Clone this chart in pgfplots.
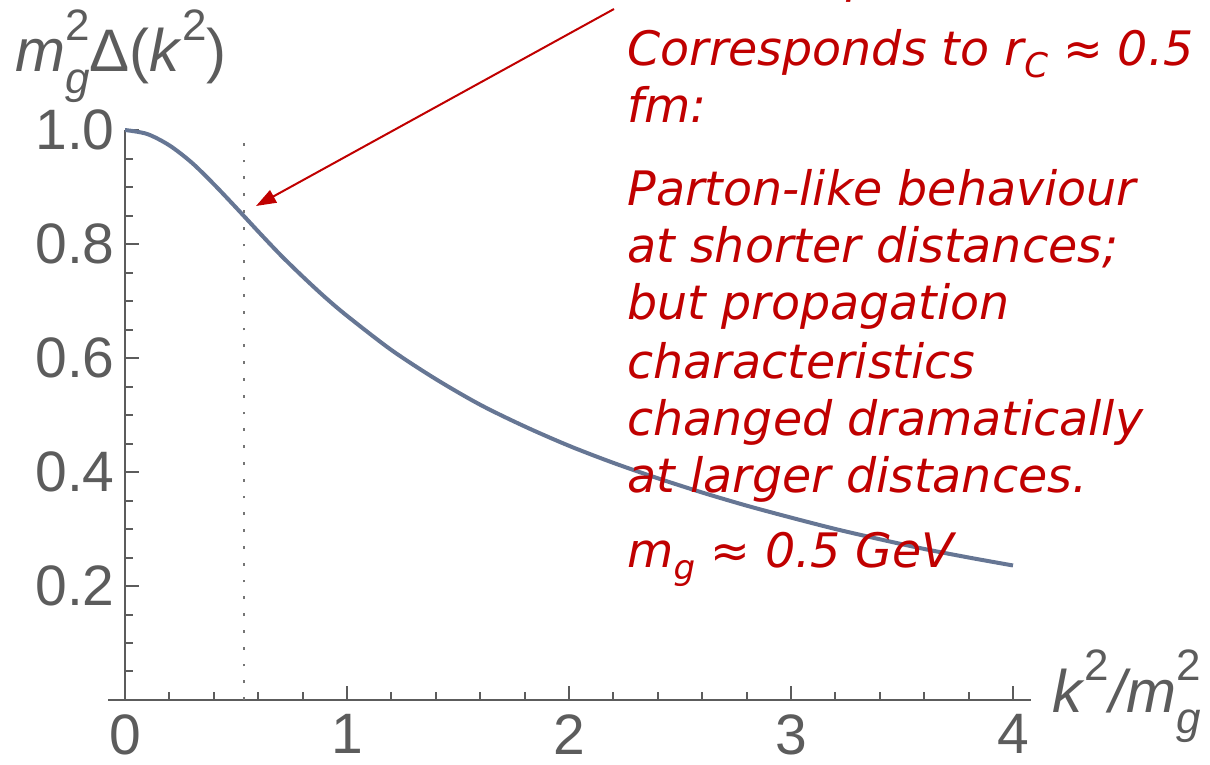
\documentclass[border=0pt]{standalone}
\usepackage{fontspec}
\usepackage{pgfplots}
\usepackage{pgfplotstable}
\pgfplotsset{compat=1.18}
\usetikzlibrary{arrows.meta}
\setmainfont{Liberation Sans}
\newfontfamily\notefont{DejaVu Sans}

\definecolor{axgray}{RGB}{92,92,92}
\definecolor{curveblue}{RGB}{102,118,148}
\definecolor{notered}{RGB}{192,0,0}

\newcommand\axfont{\fontsize{28.5bp}{34bp}\selectfont}
\newcommand\lblfont{\fontsize{30bp}{34bp}\selectfont}
\newcommand\scr[1]{{\fontsize{22bp}{22bp}\selectfont #1}}
\newcommand\sups[1]{\raisebox{0.52em}{\scr{#1}}}
% superscript stacked over a subscript
\newcommand\supsub[2]{\rlap{\raisebox{0.52em}{\scr{#1}}}\raisebox{-0.36em}{\scr{#2}}}
\newcommand\notesize{\fontsize{23.75bp}{28.5bp}\selectfont}
\newcommand\nsub[1]{\raisebox{-6bp}{\fontsize{17bp}{17bp}\selectfont #1}}

% dressed propagator, m_g^2 Delta(k^2) against k^2/m_g^2
\pgfplotstableread{
x    y
0.0  1.000
0.1  0.993
0.2  0.973
0.3  0.943
0.4  0.905
0.5  0.864
0.6  0.822
0.7  0.781
0.8  0.743
0.9  0.707
1.0  0.674
1.2  0.614
1.4  0.563
1.6  0.518
1.8  0.480
2.0  0.446
2.2  0.416
2.4  0.389
2.6  0.364
2.8  0.341
3.0  0.320
3.2  0.300
3.4  0.282
3.6  0.265
3.8  0.250
4.0  0.236
}\propdata

\begin{document}
\begin{tikzpicture}
\begin{axis}[
  scale only axis, width=461.5bp, height=285bp,
  xmin=-0.0766, xmax=4.081, ymin=0, ymax=1,
  axis lines=middle,
  axis line style={-, line width=1.3bp, axgray},
  hide obscured x ticks=false, hide obscured y ticks=false,
  xtick={0,1,2,3,4},
  minor xtick={0.2,0.4,0.6,0.8,1.2,1.4,1.6,1.8,2.2,2.4,2.6,2.8,3.2,3.4,3.6,3.8},
  ytick={0.2,0.4,0.6,0.8,1.0},
  minor ytick={0.05,0.1,0.15,0.25,0.3,0.35,0.45,0.5,0.55,0.65,0.7,0.75,0.85,0.9,0.95},
  tick align=inside,
  major tick length=7bp, minor tick length=4bp,
  every tick/.style={axgray, line width=1bp},
  /pgf/number format/assume math mode=true,
  ticklabel style={font=\axfont, text=axgray},
  yticklabel style={/pgf/number format/fixed, /pgf/number format/fixed zerofill,
    /pgf/number format/precision=1, anchor=east, inner sep=0pt, xshift=-5bp},
  xticklabel style={anchor=north, inner sep=0pt, yshift=-7bp},
  clip=false,
]
\addplot[axgray!85, line width=1.4bp, dash pattern=on 1.4bp off 7bp]
  coordinates {(0.536,0) (0.536,0.99)};
\addplot[curveblue, line width=2bp, smooth] table[x=x, y=y] {\propdata};

% axis titles
\node[anchor=base west, inner sep=0pt, text=axgray, font=\lblfont]
  at (axis cs:-0.4955,1.1018)
  {\textit{m}\supsub{2}{\textit{g}}Δ(\textit{k}\sups{2})};
\node[anchor=base west, inner sep=0pt, text=axgray, font=\lblfont]
  at (axis cs:4.1757,-0.0211)
  {\textit{k}\sups{2}\textit{/m}\supsub{2}{\textit{g}}};

% annotation
\draw[notered, line width=1bp, -{Triangle[length=10bp,width=7bp]}]
  (axis cs:2.2027,1.2123) -- (axis cs:0.5901,0.8667);
\begin{scope}[every node/.style={anchor=base west, inner sep=0pt, text=notered,
    font={\notefont\itshape\notesize}}]
\node at (axis cs:2.2613,1.2421) {Inflexion point};
\node at (axis cs:2.2613,1.1123) {Corresponds to r\nsub{C} ≈ 0.5};
\node at (axis cs:2.2613,1.0123) {fm:};
\node at (axis cs:2.2613,0.8667) {Parton-like behaviour};
\node at (axis cs:2.2613,0.7667) {at shorter distances;};
\node at (axis cs:2.2613,0.6667) {but propagation};
\node at (axis cs:2.2613,0.5649) {characteristics};
\node at (axis cs:2.2613,0.4649) {changed dramatically};
\node at (axis cs:2.2613,0.3632) {at larger distances.};
\node at (axis cs:2.2613,0.2333) {m\nsub{g} ≈ 0.5 GeV};
\end{scope}

% page frame
\coordinate (pagesw) at (axis cs:-0.5631,-0.1140);
\coordinate (pagene) at (axis cs:4.8874,1.2281);
\end{axis}

\pgfresetboundingbox
\path[use as bounding box] (pagesw) rectangle (pagene);
\end{tikzpicture}
\end{document}
